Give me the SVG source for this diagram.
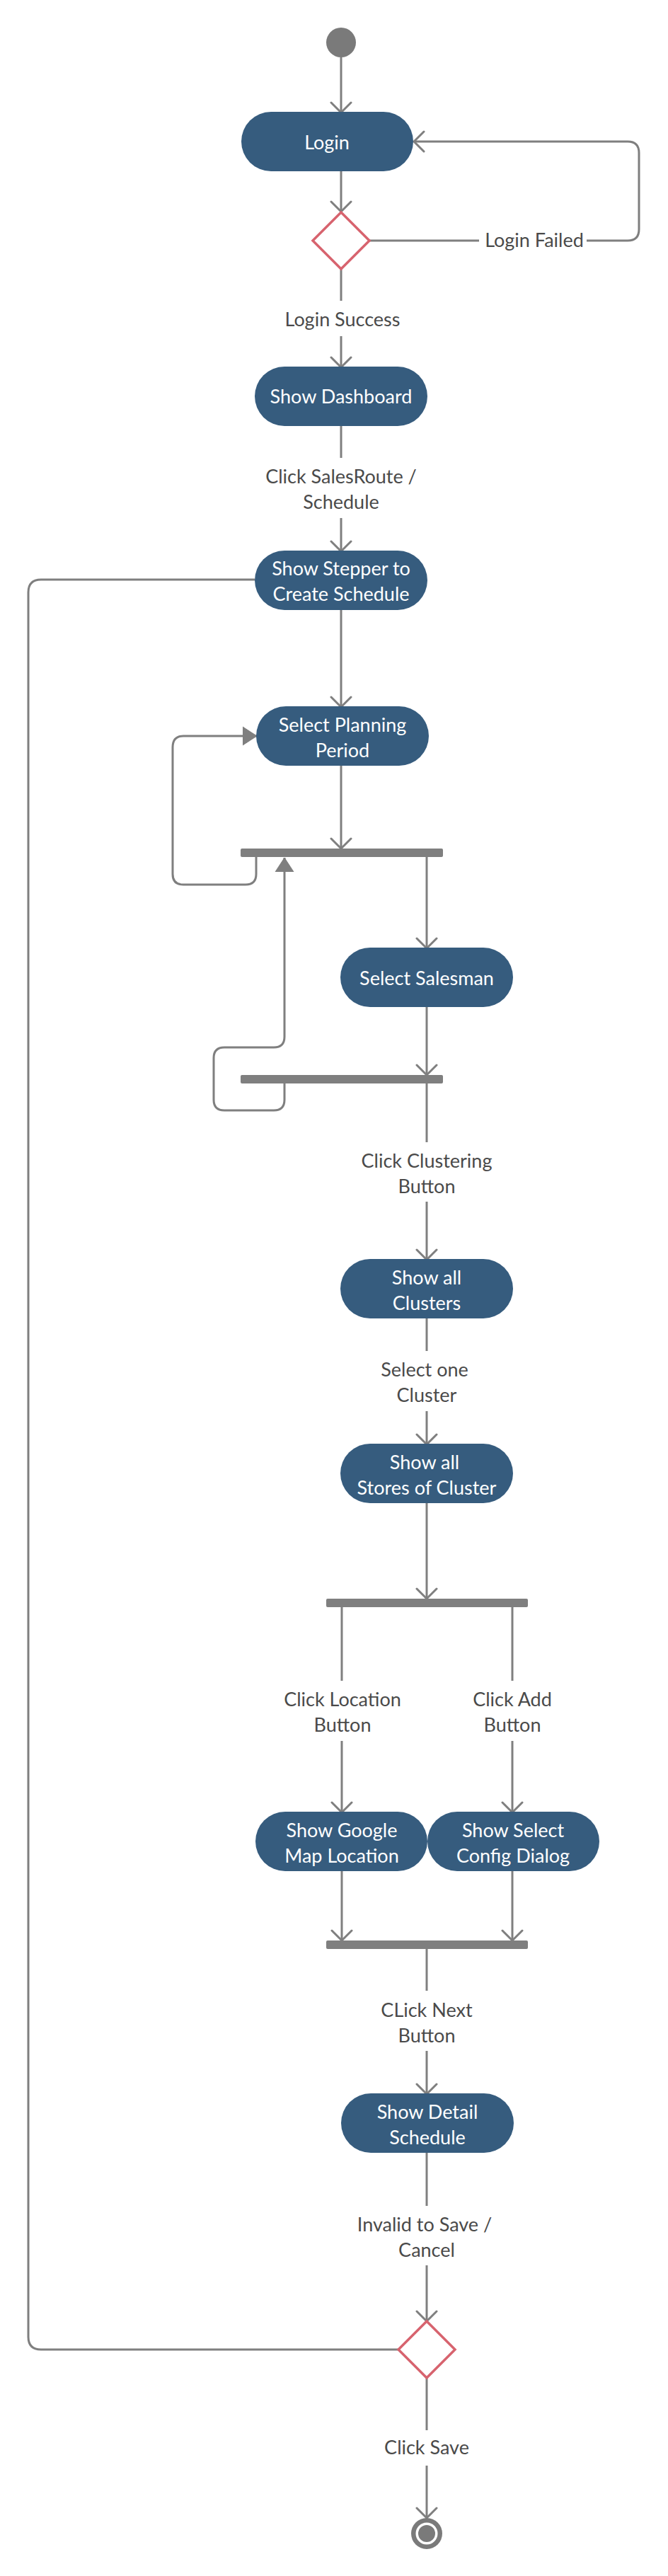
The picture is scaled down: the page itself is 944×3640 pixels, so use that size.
<svg xmlns="http://www.w3.org/2000/svg" width="944" height="3640" viewBox="0 0 944 3640">
<style>
.node rect{fill:#365c7e}
.nt{font-family:Lato,"Liberation Sans",sans-serif;font-size:27px;fill:#ffffff;text-anchor:middle}
.lbl{font-family:Lato,"Liberation Sans",sans-serif;font-size:27px;fill:#4a4a4a;text-anchor:middle}
.c{fill:none;stroke:#7f7f7f;stroke-width:3;stroke-linejoin:round}
.a{marker-end:url(#open)}
.t{marker-end:url(#tri)}
.bar{fill:#7f7f7f}
.dia{fill:#ffffff;stroke:#d7636e;stroke-width:3.5}
</style>
<defs>
<marker id="open" markerUnits="userSpaceOnUse" markerWidth="32" markerHeight="32" refX="16" refY="16" orient="auto" viewBox="0 0 32 32">
<path d="M2 2 L16 16 L2 30" fill="none" stroke="#7f7f7f" stroke-width="3" stroke-linecap="round" stroke-linejoin="round"/>
</marker>
<marker id="tri" markerUnits="userSpaceOnUse" markerWidth="24" markerHeight="30" refX="20" refY="14" orient="auto" viewBox="0 0 24 28">
<path d="M0 1 L20 14 L0 27 Z" fill="#7f7f7f" stroke="#7f7f7f" stroke-width="1" stroke-linejoin="round"/>
</marker>
</defs>

<g id="connectors">
<path class="c a" d="M482 81 V159"/>
<path class="c a" d="M482 242 V299"/>
<path class="c" d="M522 340 H677"/>
<path class="c a" d="M829 340 H887 Q903 340 903 324 V216 Q903 200 887 200 H585"/>
<path class="c" d="M482 380 V425"/>
<path class="c a" d="M482 475 V519"/>
<path class="c" d="M482 602 V647"/>
<path class="c a" d="M482 732 V779"/>
<path class="c" d="M563 3320 H58 Q40 3320 40 3302 V837 Q40 819 58 819 H360"/>
<path class="c a" d="M482 862 V999"/>
<path class="c a" d="M482 1082 V1199"/>
<path class="c t" d="M362 1211 V1235 Q362 1250 347 1250 H259 Q244 1250 244 1235 V1056 Q244 1040 259 1040 H363"/>
<path class="c a" d="M603 1211 V1340"/>
<path class="c a" d="M603 1422 V1519"/>
<path class="c t" d="M402 1531 V1554 Q402 1569 387 1569 H317 Q302 1569 302 1554 V1495 Q302 1480 317 1480 H387 Q402 1480 402 1465 V1212"/>
<path class="c" d="M603 1531 V1614"/>
<path class="c a" d="M603 1698 V1780"/>
<path class="c" d="M603 1863 V1909"/>
<path class="c a" d="M603 1994 V2041"/>
<path class="c a" d="M603 2124 V2259"/>
<path class="c" d="M483 2271 V2375"/>
<path class="c a" d="M483 2460 V2561"/>
<path class="c" d="M724 2271 V2375"/>
<path class="c a" d="M724 2460 V2561"/>
<path class="c a" d="M483 2644 V2742"/>
<path class="c a" d="M724 2644 V2742"/>
<path class="c" d="M603 2754 V2813"/>
<path class="c a" d="M603 2898 V2959"/>
<path class="c" d="M603 3042 V3117"/>
<path class="c a" d="M603 3201 V3280"/>
<path class="c" d="M603 3360 V3434"/>
<path class="c a" d="M603 3484 V3558"/>
</g>

<g id="labels">
<text class="lbl" x="755" y="349">Login Failed</text>
<text class="lbl" x="484" y="461">Login Success</text>
<text class="lbl" x="482" y="683">Click SalesRoute /</text>
<text class="lbl" x="482" y="719">Schedule</text>
<text class="lbl" x="603" y="1650">Click Clustering</text>
<text class="lbl" x="603" y="1686">Button</text>
<text class="lbl" x="600" y="1945">Select one</text>
<text class="lbl" x="603" y="1981">Cluster</text>
<text class="lbl" x="484" y="2411">Click Location</text>
<text class="lbl" x="484" y="2447">Button</text>
<text class="lbl" x="724" y="2411">Click Add</text>
<text class="lbl" x="724" y="2447">Button</text>
<text class="lbl" x="603" y="2850">CLick Next</text>
<text class="lbl" x="603" y="2886">Button</text>
<text class="lbl" x="600" y="3153">Invalid to Save /</text>
<text class="lbl" x="603" y="3189">Cancel</text>
<text class="lbl" x="603" y="3468">Click Save</text>
</g>

<g id="start"><circle cx="482" cy="60" r="21" fill="#7a7a7a"/></g>

<g id="login" class="node"><rect x="341" y="158" width="243" height="84" rx="42"/><text class="nt" x="462" y="211">Login</text></g>

<g id="decision1"><path class="dia" d="M482 300 L522 340 L482 380 L442 340 Z"/></g>

<g id="dashboard" class="node"><rect x="360" y="518" width="244" height="84" rx="42"/><text class="nt" x="482" y="570">Show Dashboard</text></g>

<g id="stepper" class="node"><rect x="360" y="778" width="244" height="84" rx="42"/><text class="nt" x="482" y="813">Show Stepper to</text><text class="nt" x="482" y="849">Create Schedule</text></g>

<g id="planning" class="node"><rect x="362" y="998" width="244" height="84" rx="42"/><text class="nt" x="484" y="1034">Select Planning</text><text class="nt" x="484" y="1070">Period</text></g>

<g id="fork1"><rect class="bar" x="340" y="1199" width="286" height="12" rx="2"/></g>

<g id="salesman" class="node"><rect x="481" y="1339" width="244" height="84" rx="42"/><text class="nt" x="603" y="1392">Select Salesman</text></g>

<g id="join1"><rect class="bar" x="340" y="1519" width="286" height="12" rx="2"/></g>

<g id="clusters" class="node"><rect x="481" y="1779" width="244" height="84" rx="42"/><text class="nt" x="603" y="1815">Show all</text><text class="nt" x="603" y="1851">Clusters</text></g>

<g id="stores" class="node"><rect x="481" y="2040" width="244" height="84" rx="42"/><text class="nt" x="600" y="2076">Show all</text><text class="nt" x="603" y="2112">Stores of Cluster</text></g>

<g id="fork2"><rect class="bar" x="461" y="2259" width="285" height="12" rx="2"/></g>

<g id="google" class="node"><rect x="361" y="2560" width="243" height="84" rx="42"/><text class="nt" x="483" y="2596">Show Google</text><text class="nt" x="483" y="2632">Map Location</text></g>

<g id="config" class="node"><rect x="604" y="2560" width="243" height="84" rx="42"/><text class="nt" x="725" y="2596">Show Select</text><text class="nt" x="725" y="2632">Config Dialog</text></g>

<g id="join2"><rect class="bar" x="461" y="2742" width="285" height="12" rx="2"/></g>

<g id="detail" class="node"><rect x="482" y="2958" width="244" height="84" rx="42"/><text class="nt" x="604" y="2994">Show Detail</text><text class="nt" x="604" y="3030">Schedule</text></g>

<g id="decision2"><path class="dia" d="M603 3280 L643 3320 L603 3360 L563 3320 Z"/></g>

<g id="end"><circle cx="603" cy="3580" r="22" fill="#7a7a7a"/><circle cx="603" cy="3580" r="15.5" fill="#ffffff"/><circle cx="603" cy="3580" r="12" fill="#7a7a7a"/></g>
</svg>
